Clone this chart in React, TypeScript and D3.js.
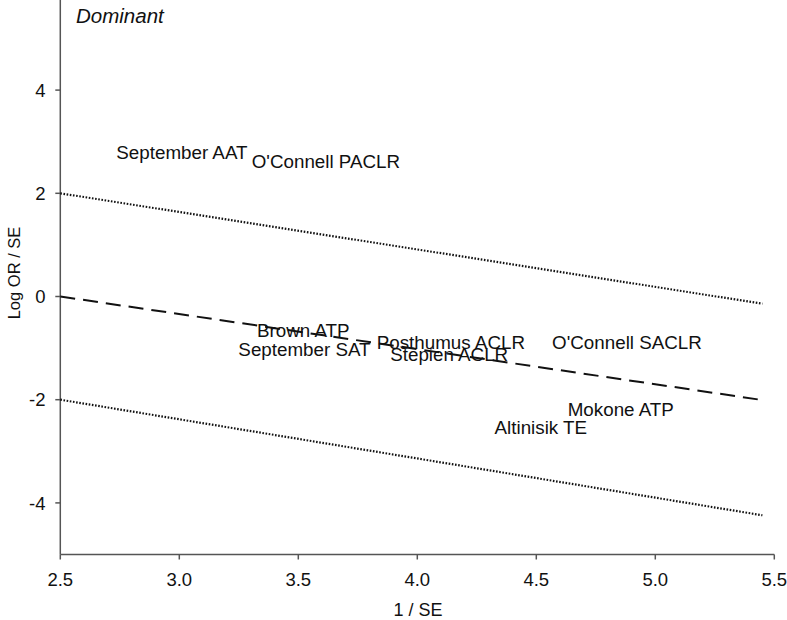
import React from "react";
import * as d3 from "d3";

const studies = ["September AAT", "O'Connell PACLR", "Brown ATP", "September SAT", "Posthumus ACLR", "Stepien ACLR", "O'Connell SACLR", "Mokone ATP", "Altinisik TE"];
const invSE = [3.011, 3.616, 3.521, 3.526, 4.141, 4.134, 4.881, 4.855, 4.519];
const logOrSE = [2.79, 2.62, -0.66, -1.03, -0.886, -1.12, -0.89, -2.18, -2.53];

const regX = [2.5, 5.44];
const regY = [0, -2.0];
const upperX = [2.5, 5.45];
const upperY = [2.0, -0.14];
const lowerX = [2.5, 5.45];
const lowerY = [-2.0, -4.24];

const xTicks = [2.5, 3.0, 3.5, 4.0, 4.5, 5.0, 5.5];
const yTicks = [-4, -2, 0, 2, 4];

const W = 787;
const H = 620;

export default function App() {
  const x = d3.scaleLinear().domain([2.5, 5.5]).range([60.3, 774.3]);
  const y = d3.scaleLinear().domain([-5, 5.75]).range([554.5, -0.2]);
  const line = d3
    .line<[number, number]>()
    .x((d) => x(d[0]))
    .y((d) => y(d[1]));
  const pts = (xs: number[], ys: number[]) => xs.map((v, i) => [v, ys[i]] as [number, number]);
  const font = "'Liberation Sans', Arial, sans-serif";
  const axisColor = "#555";
  const x0 = x(2.5);
  const yBottom = y(-5);
  return (
    <svg width={W} height={H} style={{ position: "absolute", left: 0, top: 0, background: "#fff" }} fontFamily={font}>
      <line x1={x0} x2={x0} y1={0} y2={yBottom} stroke={axisColor} strokeWidth={1.5} />
      <line x1={x0} x2={x(5.5)} y1={yBottom} y2={yBottom} stroke={axisColor} strokeWidth={1.5} />
      {xTicks.map((t) => (
        <g key={"xt" + t}>
          <line x1={x(t)} x2={x(t)} y1={yBottom} y2={yBottom + 5} stroke={axisColor} strokeWidth={1.5} />
          <text x={x(t)} y={586} textAnchor="middle" fontSize={18.5} fill="#111">
            {t.toFixed(1)}
          </text>
        </g>
      ))}
      {yTicks.map((t) => (
        <g key={"yt" + t}>
          <line x1={x0 - 5} x2={x0} y1={y(t)} y2={y(t)} stroke={axisColor} strokeWidth={1.5} />
          <text x={45.5} y={y(t)} dy="0.36em" textAnchor="end" fontSize={18.5} fill="#111">
            {t}
          </text>
        </g>
      ))}
      <text x={418} y={616} textAnchor="middle" fontSize={18} fill="#111">
        1 / SE
      </text>
      <text transform="translate(19.5,273) rotate(-90)" textAnchor="middle" fontSize={16.5} fill="#111">
        Log OR / SE
      </text>
      <text x={76} y={22.5} fontSize={20.5} fontStyle="italic" fill="#111">
        Dominant
      </text>
      <path d={line(pts(upperX, upperY)) || ""} fill="none" stroke="#111" strokeWidth={2.2} strokeDasharray="1.6 1.6" />
      <path d={line(pts(lowerX, lowerY)) || ""} fill="none" stroke="#111" strokeWidth={2.2} strokeDasharray="1.6 1.6" />
      <path d={line(pts(regX, regY)) || ""} fill="none" stroke="#111" strokeWidth={2} strokeDasharray="15 8" />
      {studies.map((s, i) => (
        <text key={s} x={x(invSE[i])} y={y(logOrSE[i])} dy="0.36em" textAnchor="middle" fontSize={18.8} fill="#111">
          {s}
        </text>
      ))}
    </svg>
  );
}
